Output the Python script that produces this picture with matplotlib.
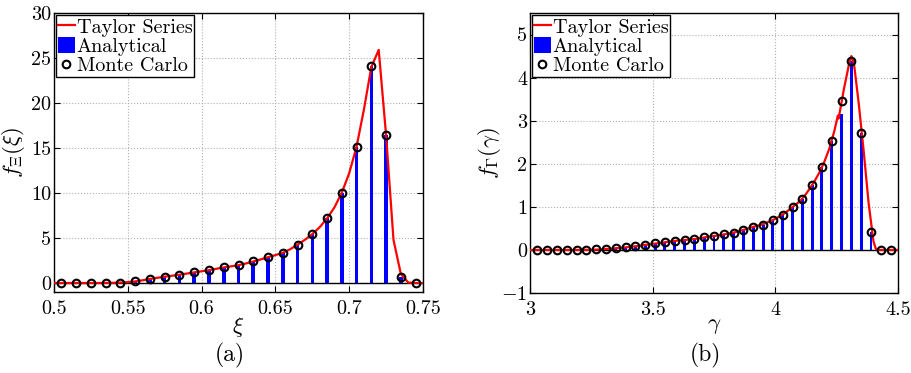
import numpy as np
import matplotlib
matplotlib.use("Agg")
import matplotlib.pyplot as plt

plt.rcParams['font.family'] = 'serif'
plt.rcParams['font.serif'] = ['cmr10']
plt.rcParams['mathtext.fontset'] = 'cm'
plt.rcParams['axes.formatter.use_mathtext'] = True

# ---------------- Panel (a) data ----------------
xi_points = [0.505, 0.515, 0.525, 0.535, 0.545, 0.555, 0.565, 0.575, 0.585, 0.595,
             0.605, 0.615, 0.625, 0.635, 0.645, 0.655, 0.665, 0.675, 0.685, 0.695,
             0.705, 0.715, 0.725, 0.735, 0.745]
xi_analytical = [0.0, 0.0, 0.0, 0.0, 0.02, 0.18, 0.45, 0.7, 0.92, 1.18,
                 1.43, 1.73, 1.95, 2.39, 2.87, 3.35, 4.26, 5.44, 7.17, 10.04,
                 15.15, 24.15, 16.4, 0.7, 0.0]
xi_montecarlo = [0.0, 0.0, 0.0, 0.0, 0.02, 0.18, 0.45, 0.7, 0.92, 1.18,
                 1.43, 1.73, 1.95, 2.39, 2.87, 3.35, 4.26, 5.44, 7.17, 10.04,
                 15.15, 24.15, 16.4, 0.7, 0.0]
xi_curve_x = [0.500, 0.505, 0.510, 0.515, 0.520, 0.525, 0.530, 0.535, 0.540, 0.545,
              0.550, 0.555, 0.560, 0.565, 0.570, 0.575, 0.580, 0.585, 0.590, 0.595,
              0.600, 0.605, 0.610, 0.615, 0.620, 0.625, 0.630, 0.635, 0.640, 0.645,
              0.650, 0.655, 0.660, 0.665, 0.670, 0.675, 0.680, 0.685, 0.690, 0.695,
              0.700, 0.705, 0.710, 0.715, 0.720, 0.725, 0.730, 0.735, 0.740, 0.745,
              0.750]
xi_curve_y = [0.0, 0.0, 0.0, 0.0, 0.0, 0.0, 0.0, 0.01, 0.02, 0.05,
              0.1, 0.18, 0.3, 0.45, 0.58, 0.7, 0.81, 0.92, 1.05, 1.18,
              1.3, 1.43, 1.58, 1.73, 1.85, 1.98, 2.17, 2.39, 2.62, 2.87,
              3.1, 3.35, 3.75, 4.26, 4.8, 5.44, 6.2, 7.17, 8.4, 10.04,
              12.2, 15.15, 19.3, 24.0, 25.9, 16.4, 4.8, 1.0, 0.05, 0.0,
              0.0]
xi_xticks = [0.5, 0.55, 0.6, 0.65, 0.7, 0.75]
xi_xticklabels = ['0.5', '0.55', '0.6', '0.65', '0.7', '0.75']
xi_yticks = [0, 5, 10, 15, 20, 25, 30]
xi_yticklabels = ['0', '5', '10', '15', '20', '25', '30']

# ---------------- Panel (b) data ----------------
gamma_points = [3.03, 3.07, 3.11, 3.15, 3.19, 3.23, 3.27, 3.31, 3.35, 3.39,
                3.43, 3.47, 3.51, 3.55, 3.59, 3.63, 3.67, 3.71, 3.75, 3.79,
                3.83, 3.87, 3.91, 3.95, 3.99, 4.03, 4.07, 4.11, 4.15, 4.19,
                4.23, 4.27, 4.31, 4.35, 4.39, 4.43, 4.47]
gamma_analytical = [0.0, 0.0, 0.0, 0.0, 0.0, 0.0, 0.01, 0.02, 0.04, 0.06,
                    0.085, 0.12, 0.15, 0.18, 0.21, 0.23, 0.25, 0.29, 0.32, 0.36,
                    0.4, 0.46, 0.53, 0.59, 0.69, 0.82, 1.0, 1.18, 1.51, 1.92,
                    2.53, 3.15, 4.38, 2.72, 0.42, 0.0, 0.0]
gamma_montecarlo = [0.0, 0.0, 0.0, 0.0, 0.0, 0.0, 0.01, 0.02, 0.04, 0.06,
                    0.085, 0.12, 0.15, 0.18, 0.21, 0.23, 0.25, 0.29, 0.32, 0.36,
                    0.4, 0.46, 0.53, 0.59, 0.69, 0.82, 1.0, 1.18, 1.51, 1.92,
                    2.53, 3.45, 4.38, 2.72, 0.42, 0.0, 0.0]
gamma_curve_x = [3.00, 3.10, 3.20, 3.26, 3.28, 3.30, 3.32, 3.34, 3.36, 3.38,
                 3.40, 3.42, 3.44, 3.46, 3.48, 3.50, 3.52, 3.54, 3.56, 3.58,
                 3.60, 3.62, 3.64, 3.66, 3.68, 3.70, 3.72, 3.74, 3.76, 3.78,
                 3.80, 3.82, 3.84, 3.86, 3.88, 3.90, 3.92, 3.94, 3.96, 3.98,
                 4.00, 4.02, 4.04, 4.06, 4.08, 4.10, 4.12, 4.14, 4.16, 4.18,
                 4.20, 4.22, 4.24, 4.255, 4.258, 4.28, 4.30, 4.31, 4.32, 4.34,
                 4.36, 4.38, 4.40, 4.41, 4.42, 4.45, 4.50]
gamma_curve_y = [0.0, 0.0, 0.0, 0.005, 0.01, 0.02, 0.025, 0.035, 0.045, 0.055,
                 0.065, 0.08, 0.09, 0.11, 0.125, 0.14, 0.155, 0.17, 0.185, 0.2,
                 0.215, 0.225, 0.235, 0.245, 0.26, 0.28, 0.3, 0.315, 0.33, 0.35,
                 0.37, 0.39, 0.415, 0.45, 0.48, 0.52, 0.55, 0.58, 0.62, 0.67,
                 0.72, 0.79, 0.86, 0.95, 1.04, 1.13, 1.26, 1.42, 1.6, 1.8,
                 2.05, 2.35, 2.75, 3.12, 3.05, 3.75, 4.3, 4.5, 4.35, 3.4,
                 2.3, 1.1, 0.2, 0.02, 0.0, 0.0, 0.0]
gamma_xticks = [3, 3.5, 4, 4.5]
gamma_xticklabels = ['3', '3.5', '4', '4.5']
gamma_yticks = [-1, 0, 1, 2, 3, 4, 5]
gamma_yticklabels = ['$-1$', '0', '1', '2', '3', '4', '5']

FS = 14.5

fig = plt.figure(figsize=(9.12, 3.73), dpi=100)
ax1 = fig.add_axes([54/912, 1-292/373, 369/912, 279/373])
ax2 = fig.add_axes([530/912, 1-293/373, 368/912, 280/373])


def style(ax, xlim, ylim, xt, xtl, yt, ytl):
    ax.set_xlim(*xlim)
    ax.set_ylim(*ylim)
    ax.set_xticks(xt)
    ax.set_xticklabels(xtl, fontsize=FS)
    ax.set_yticks(yt)
    ax.set_yticklabels(ytl, fontsize=FS)
    ax.tick_params(direction='in', top=True, right=True, length=4, width=0.8)
    ax.tick_params(axis='x', pad=6)
    ax.tick_params(axis='y', pad=2)
    ax.grid(True, linestyle=':', color='#b0b0b0', linewidth=0.8)
    ax.set_axisbelow(True)
    for s in ax.spines.values():
        s.set_linewidth(1.0)
    ax.axhline(0, color='k', lw=1.0, zorder=1.5)


def draw(ax, pts, ana, mc, cx, cy, width):
    b = ax.bar(pts, ana, width=width, color='#0000ff', edgecolor='none',
               zorder=2, label='Analytical')
    l, = ax.plot(cx, cy, color='#ff0000', lw=1.6, zorder=3, label='Taylor Series')
    m, = ax.plot(pts, mc, linestyle='none', marker='o', markersize=5.5,
                 markerfacecolor='none', markeredgecolor='k', markeredgewidth=1.5,
                 zorder=4, label='Monte Carlo')
    leg = ax.legend(handles=[l, b, m], loc='upper left', fontsize=FS,
                    frameon=True, fancybox=False, edgecolor='k', framealpha=1,
                    borderpad=0.1, labelspacing=0.0, handlelength=0.8,
                    handletextpad=0.1, handleheight=0.9, borderaxespad=0.12)
    leg.get_frame().set_linewidth(1.0)


draw(ax1, xi_points, xi_analytical, xi_montecarlo, xi_curve_x, xi_curve_y, 0.0024)
style(ax1, (0.5, 0.75), (-1, 30), xi_xticks, xi_xticklabels, xi_yticks, xi_yticklabels)
ax1.set_xlabel(r'$\xi$', fontsize=FS + 2, labelpad=-2)
ax1.set_ylabel(r'$f_{\Xi}(\xi)$', fontsize=FS + 2)
ax1.yaxis.set_label_coords(-0.072, 0.5)

draw(ax2, gamma_points, gamma_analytical, gamma_montecarlo, gamma_curve_x, gamma_curve_y, 0.012)
style(ax2, (3, 4.5), (-1, 5.5), gamma_xticks, gamma_xticklabels, gamma_yticks, gamma_yticklabels)
ax2.set_xlabel(r'$\gamma$', fontsize=FS + 2, labelpad=-2)
ax2.set_ylabel(r'$f_{\Gamma}(\gamma)$', fontsize=FS + 2)
ax2.yaxis.set_label_coords(-0.073, 0.5)

fig.text(230/912, 1-355/373, '(a)', fontsize=17, ha='center', va='center')
fig.text(705/912, 1-355/373, '(b)', fontsize=17, ha='center', va='center')

fig.savefig('out.png', dpi=100)
